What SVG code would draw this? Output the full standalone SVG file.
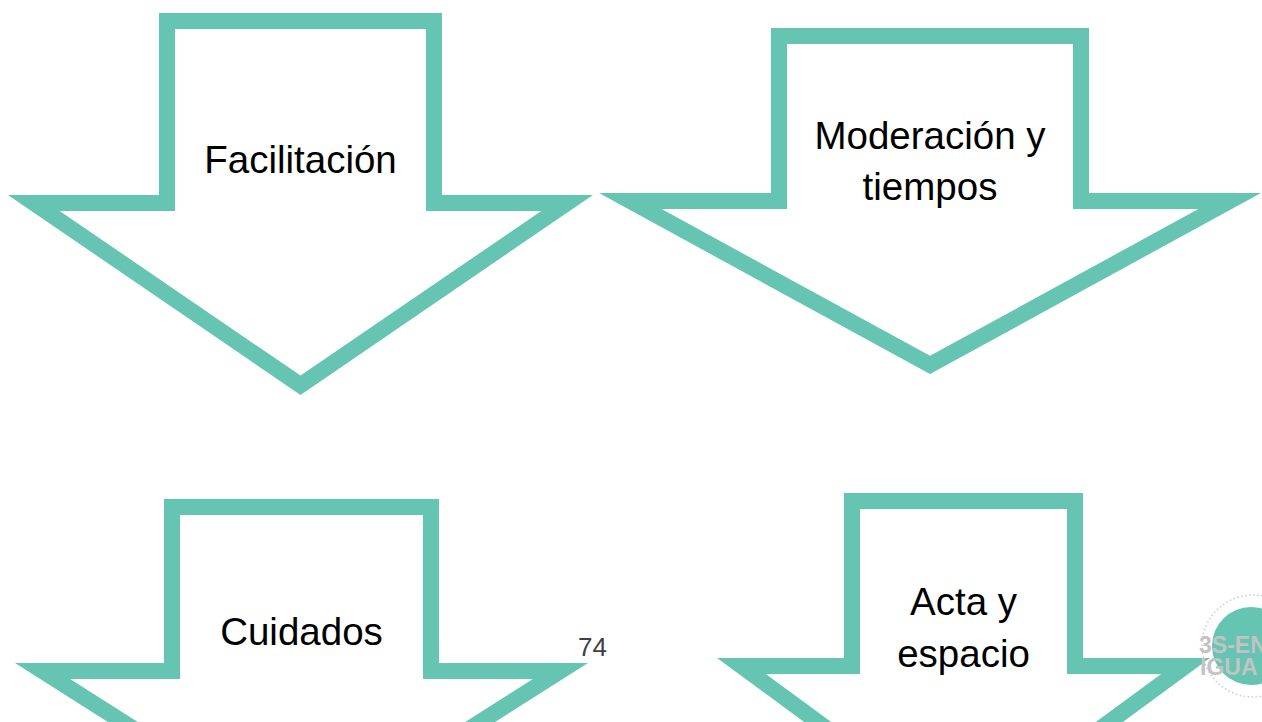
<svg xmlns="http://www.w3.org/2000/svg" width="1262" height="722" viewBox="0 0 1262 722">
  <style>
    .arrow { fill: #66C5B2; fill-rule: evenodd; stroke: none; }
    .lbl { font-family: "Liberation Sans", Arial, sans-serif; font-size: 38.5px; fill: #000000; text-anchor: middle; }
    .pg { font-family: "Liberation Sans", Arial, sans-serif; font-size: 26px; fill: #404040; }
    .logo-t { font-family: "Liberation Sans", Arial, sans-serif; font-size: 23px; font-weight: bold; fill: #C3C3C3; }
  </style>
  <rect width="1262" height="722" fill="#FFFFFF"/>
  <g id="connectors"></g>
  <g id="node-facilitacion">
    <path class="arrow" d="M159,13 H442 V195 H593 L300.5,395 L8,195 H159 Z M175,29 H426 V211 H541.3 L300.5,375.6 L59.7,211 H175 Z"/>
    <text class="lbl" x="300.5" y="173">Facilitación</text>
  </g>
  <g id="node-moderacion">
    <path class="arrow" d="M771,28 H1089 V193 H1261 L930,374 L599,193 H771 Z M787,44 H1073 V209 H1198.4 L930,355.8 L661.6,209 H787 Z"/>
    <text class="lbl" x="930" y="149">Moderación y</text>
    <text class="lbl" x="930" y="200">tiempos</text>
  </g>
  <g id="node-cuidados">
    <path class="arrow" d="M164,499 H439 V663 H588 L301.5,845 L15,663 H164 Z M180,515 H423 V679 H532.9 L301.5,826 L70.1,679 H180 Z"/>
    <text class="lbl" x="301.5" y="645">Cuidados</text>
  </g>
  <g id="node-acta">
    <path class="arrow" d="M844,493 H1083 V658 H1210 L963.5,839 L717,658 H844 Z M860,509 H1067 V674 H1161.2 L963.5,819 L765.8,674 H860 Z"/>
    <text class="lbl" x="963.5" y="615">Acta y</text>
    <text class="lbl" x="963.5" y="667">espacio</text>
  </g>
  <g id="page-number">
    <text class="pg" x="578" y="656">74</text>
  </g>
  <g id="logo">
    <circle cx="1253" cy="646" r="51" fill="none" stroke="#C9C9C9" stroke-width="1.5" stroke-dasharray="1.5 2.5"/>
    <circle cx="1251" cy="646" r="39" fill="#66C5B2"/>
    <text class="logo-t" x="1199" y="653">3S-EN</text>
    <text class="logo-t" x="1200" y="675">IGUA</text>
  </g>
</svg>
